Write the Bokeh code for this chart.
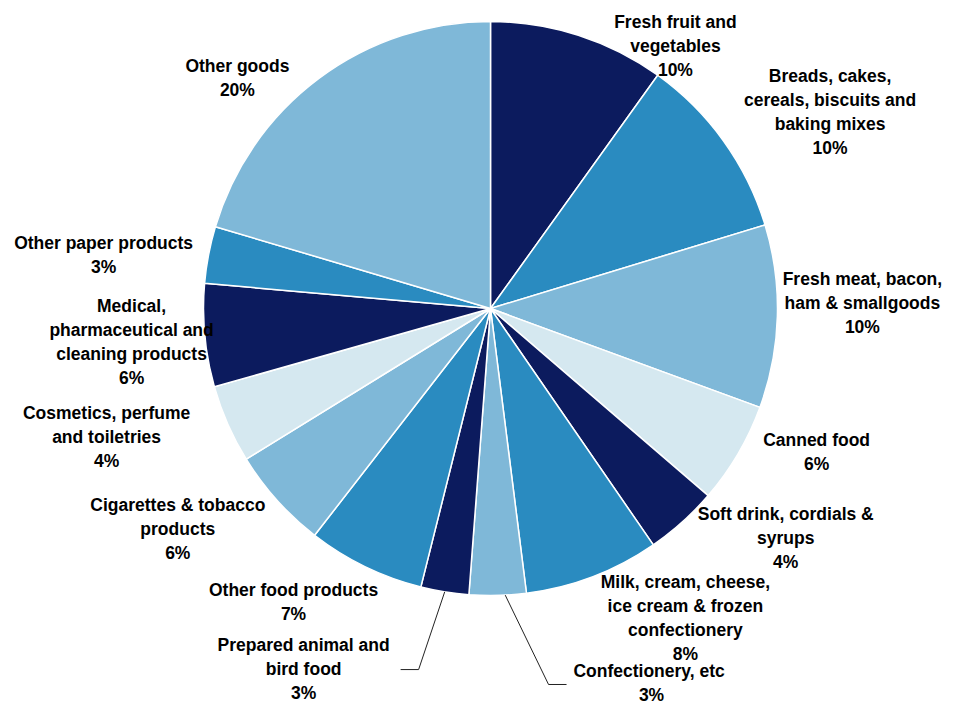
import math
from bokeh.plotting import figure
from bokeh.models import Range1d, ColumnDataSource
from bokeh.core.properties import value
from bokeh.embed import file_html
from bokeh.resources import INLINE

# ---- data ----
categories = [
    "Fresh fruit and\nvegetables",
    "Breads, cakes,\ncereals, biscuits and\nbaking mixes",
    "Fresh meat, bacon,\nham & smallgoods",
    "Canned food",
    "Soft drink, cordials &\nsyrups",
    "Milk, cream, cheese,\nice cream & frozen\nconfectionery",
    "Confectionery,  etc",
    "Prepared animal and\nbird food",
    "Other food products",
    "Cigarettes & tobacco\nproducts",
    "Cosmetics, perfume\nand toiletries",
    "Medical,\npharmaceutical and\ncleaning products",
    "Other paper products",
    "Other goods",
]
shares = [9.9, 10.4, 10.3, 5.7, 4.1, 7.6, 3.2, 2.7, 6.6, 5.7, 4.4, 5.8, 3.2, 20.4]

# ---- style / layout ----
palette = ["#0C1B5E", "#2A8BC0", "#7FB8D8", "#D5E8F0"]
W, H = 957, 704
CX, CY, R = 490, 396, 287
label_r = [1.12, 1.367, 1.296, 1.242, 1.303, 1.275, 1.422, 1.4135, 1.233, 1.334, 1.411, 1.256, 1.361, 1.192]
label_shift = [17.3, 5.6, -2.5, -6.6, -10.2, -11.3, -21.8, 18.25, 7.9, 6.7, 5.2, 0.1, -2.9, -11.0]
leader = {6: -85, 7: 97}   # label index -> horizontal offset of leader end from label centre
FONT = "Liberation Sans"
FS = 17.5

total = sum(shares)
starts, ends, mids, colors = [], [], [], []
cum = 0.0
for i, s in enumerate(shares):
    a0 = cum / total * 2 * math.pi
    cum += s
    a1 = cum / total * 2 * math.pi
    starts.append(math.pi / 2 - a0)
    ends.append(math.pi / 2 - a1)
    mids.append((a0 + a1) / 2)
    colors.append(palette[[0, 1, 2, 3, 0, 1, 2, 0, 1, 2, 3, 0, 1, 2][i]])

src = ColumnDataSource(dict(start=starts, end=ends, color=colors))

p = figure(width=W, height=H, output_backend="svg", toolbar_location=None,
           x_range=Range1d(0, W), y_range=Range1d(0, H), min_border=0)
p.axis.visible = False
p.grid.visible = False
p.outline_line_color = None
p.background_fill_color = "white"
p.border_fill_color = "white"

p.wedge(x=CX, y=CY, radius=R, start_angle="start", end_angle="end",
        direction="clock", fill_color="color", line_color="white",
        line_width=1.5, source=src)

lx, ly, texts = [], [], []
for i, (c, s) in enumerate(zip(categories, shares)):
    ang = mids[i] + math.radians(label_shift[i])
    x = CX + R * label_r[i] * math.sin(ang)
    y = CY + R * label_r[i] * math.cos(ang)
    lx.append(x)
    ly.append(y)
    texts.append(f"{c}\n{int(s + 0.5)}%")

# leader lines
for i, off in leader.items():
    m = mids[i] - math.radians(1.5) if off < 0 else mids[i]
    sx = CX + R * math.sin(m)
    sy = CY + R * math.cos(m)
    ex = lx[i] + off
    ey = ly[i] - 1
    bx = ex - 18 if off < 0 else ex + 18
    p.line([sx, bx, ex], [sy, ey, ey], line_color="#222222", line_width=1)

p.text(x=lx, y=ly, text=texts, text_align="center", text_baseline="middle",
       text_font=value(FONT), text_font_style="bold", text_font_size=f"{FS}px",
       text_color="black", text_line_height=1.2)

open("out.html", "w").write(file_html(p, INLINE))
